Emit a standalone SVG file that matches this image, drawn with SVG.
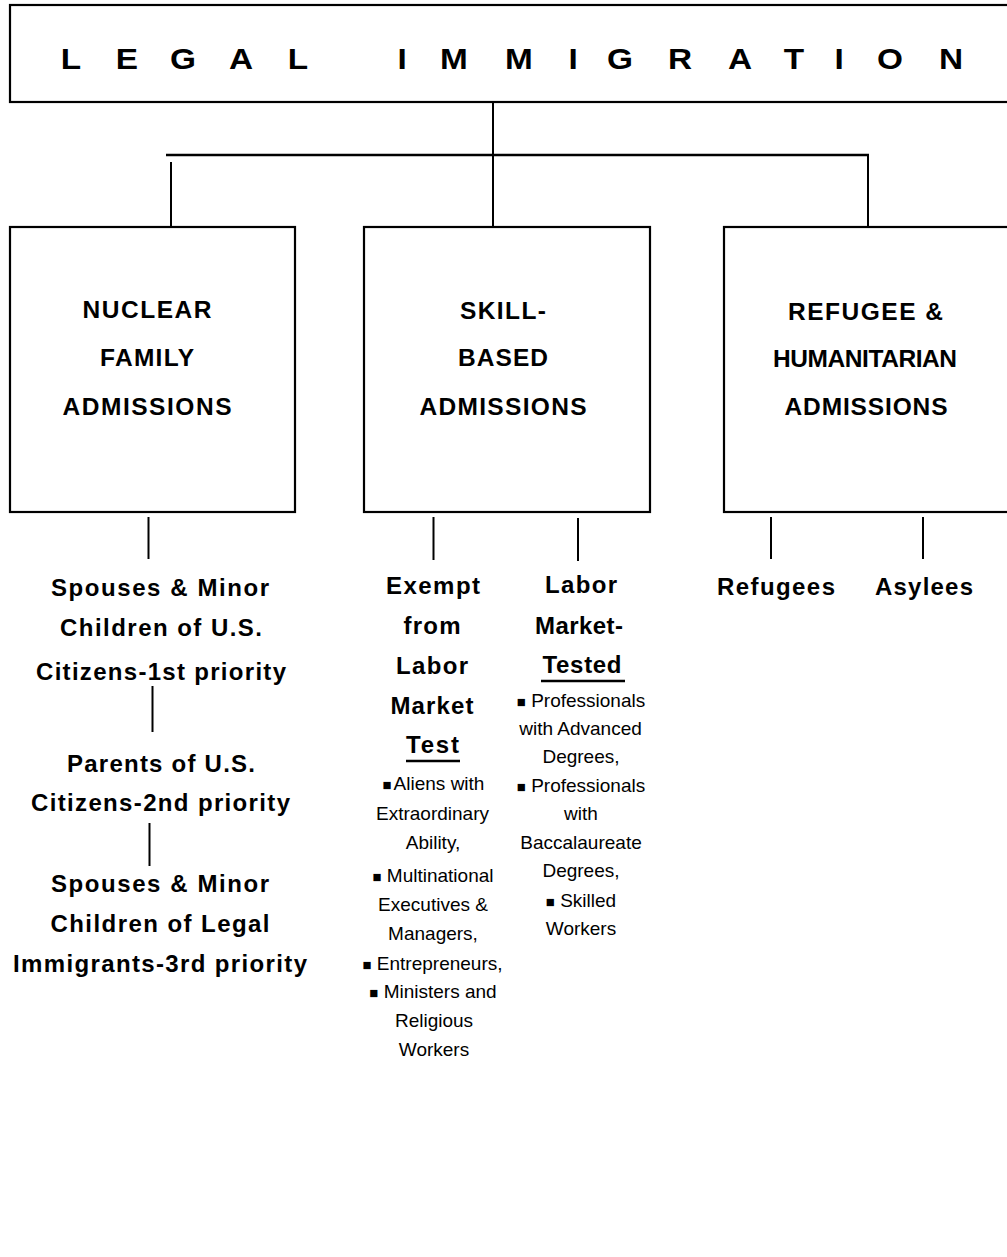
<svg xmlns="http://www.w3.org/2000/svg" width="1007" height="1257" viewBox="0 0 1007 1257">
<style>
.box{fill:#fff;stroke:#000;stroke-width:2.2}
.ln{stroke:#000;stroke-width:2;fill:none}
.title{font-family:"Liberation Sans",Arial,sans-serif;font-weight:bold;font-size:29px;fill:#000}
.hd{font-family:"Liberation Sans",Arial,sans-serif;font-weight:bold;font-size:24.5px;fill:#000;text-anchor:middle}
.sb{font-family:"Liberation Sans",Arial,sans-serif;font-weight:bold;font-size:24px;fill:#000;text-anchor:middle}
.bl{font-family:"Liberation Sans",Arial,sans-serif;font-size:19px;fill:#000;text-anchor:middle}
.bu{font-size:15px}
</style>
<rect width="1007" height="1257" fill="#fff"/>
<g id="connectors">
<line class="ln" x1="493" y1="102" x2="493" y2="227"/>
<line class="ln" x1="166" y1="155" x2="869" y2="155" style="stroke-width:2.5"/>
<line class="ln" x1="868" y1="155" x2="868" y2="227"/>
<line class="ln" x1="171" y1="162" x2="171" y2="232"/>
<line class="ln" x1="148.5" y1="517" x2="148.5" y2="559"/>
<line class="ln" x1="152.5" y1="686" x2="152.5" y2="732"/>
<line class="ln" x1="149.5" y1="823" x2="149.5" y2="866"/>
<line class="ln" x1="433.5" y1="517" x2="433.5" y2="560"/>
<line class="ln" x1="578" y1="518" x2="578" y2="561"/>
<line class="ln" x1="771" y1="517" x2="771" y2="559"/>
<line class="ln" x1="923" y1="517" x2="923" y2="559"/>
</g>
<g id="legal-immigration">
<rect class="box" x="10" y="5" width="1010" height="97"/>
<text class="title" text-anchor="middle" transform="scale(1.15,1)" x="61.7 110.4 159.1 209.6 259.1 349.6 394.8 451.3 498.3 539.1 591.3 643.5 690.4 729.6 773.9 827" y="69">LEGALIMMIGRATION</text>
</g>
<g id="nuclear-family">
<rect class="box" x="10" y="227" width="285" height="285"/>
<text class="hd" x="147" y="318" textLength="129">NUCLEAR</text>
<text class="hd" x="147" y="366" textLength="94">FAMILY</text>
<text class="hd" x="147" y="415" textLength="169">ADMISSIONS</text>
</g>
<g id="skill-based">
<rect class="box" x="364" y="227" width="286" height="285"/>
<text class="hd" x="503" y="319" textLength="86">SKILL-</text>
<text class="hd" x="503" y="366" textLength="90">BASED</text>
<text class="hd" x="503" y="415" textLength="167">ADMISSIONS</text>
</g>
<g id="refugee-humanitarian">
<rect class="box" x="724" y="227" width="300" height="285"/>
<text class="hd" x="865.5" y="320" textLength="155">REFUGEE &amp;</text>
<text class="hd" x="865" y="367" textLength="184">HUMANITARIAN</text>
<text class="hd" x="866" y="415" textLength="163">ADMISSIONS</text>
</g>
<g id="family-first">
<text class="sb" x="160" y="596" textLength="218">Spouses &amp; Minor</text>
<text class="sb" x="161" y="636" textLength="202">Children of U.S.</text>
<text class="sb" x="161" y="680" textLength="250">Citizens-1st priority</text>
</g>
<g id="family-second">
<text class="sb" x="161" y="772" textLength="188">Parents of U.S.</text>
<text class="sb" x="160.5" y="811" textLength="259">Citizens-2nd priority</text>
</g>
<g id="family-third">
<text class="sb" x="160" y="892" textLength="218">Spouses &amp; Minor</text>
<text class="sb" x="160" y="932" textLength="219">Children of Legal</text>
<text class="sb" x="160" y="972" textLength="294">Immigrants-3rd priority</text>
</g>
<g id="exempt">
<text class="sb" x="433" y="594" textLength="94">Exempt</text>
<text class="sb" x="432" y="634" textLength="57">from</text>
<text class="sb" x="432" y="674" textLength="72">Labor</text>
<text class="sb" x="432" y="714" textLength="83">Market</text>
<text class="sb" x="432.5" y="753" textLength="53">Test</text>
<line class="ln" x1="406" y1="761" x2="460" y2="761" style="stroke-width:2.5"/>
<text class="bl" x="433.5" y="790"><tspan class="bu">■</tspan><tspan dx="2">Aliens with</tspan></text>
<text class="bl" x="432.5" y="820">Extraordinary</text>
<text class="bl" x="433" y="849">Ability,</text>
<text class="bl" x="433" y="882"><tspan class="bu">■</tspan> Multinational</text>
<text class="bl" x="433" y="911">Executives &amp;</text>
<text class="bl" x="433" y="940">Managers,</text>
<text class="bl" x="432.5" y="970"><tspan class="bu">■</tspan> Entrepreneurs,</text>
<text class="bl" x="433" y="998"><tspan class="bu">■</tspan> Ministers and</text>
<text class="bl" x="434" y="1027">Religious</text>
<text class="bl" x="434" y="1056">Workers</text>
</g>
<g id="labor-market-tested">
<text class="sb" x="581" y="593" textLength="72">Labor</text>
<text class="sb" x="579" y="634" textLength="88">Market-</text>
<text class="sb" x="582" y="673" textLength="79">Tested</text>
<line class="ln" x1="541" y1="681" x2="625" y2="681" style="stroke-width:2.5"/>
<text class="bl" x="581" y="707"><tspan class="bu">■</tspan> Professionals</text>
<text class="bl" x="580.5" y="735">with Advanced</text>
<text class="bl" x="581" y="763">Degrees,</text>
<text class="bl" x="581" y="792"><tspan class="bu">■</tspan> Professionals</text>
<text class="bl" x="581" y="820">with</text>
<text class="bl" x="581" y="849">Baccalaureate</text>
<text class="bl" x="581" y="877">Degrees,</text>
<text class="bl" x="581" y="907"><tspan class="bu">■</tspan> Skilled</text>
<text class="bl" x="581" y="935">Workers</text>
</g>
<g id="refugees">
<text class="sb" x="776" y="595" textLength="118">Refugees</text>
</g>
<g id="asylees">
<text class="sb" x="924" y="595" textLength="98">Asylees</text>
</g>
</svg>
